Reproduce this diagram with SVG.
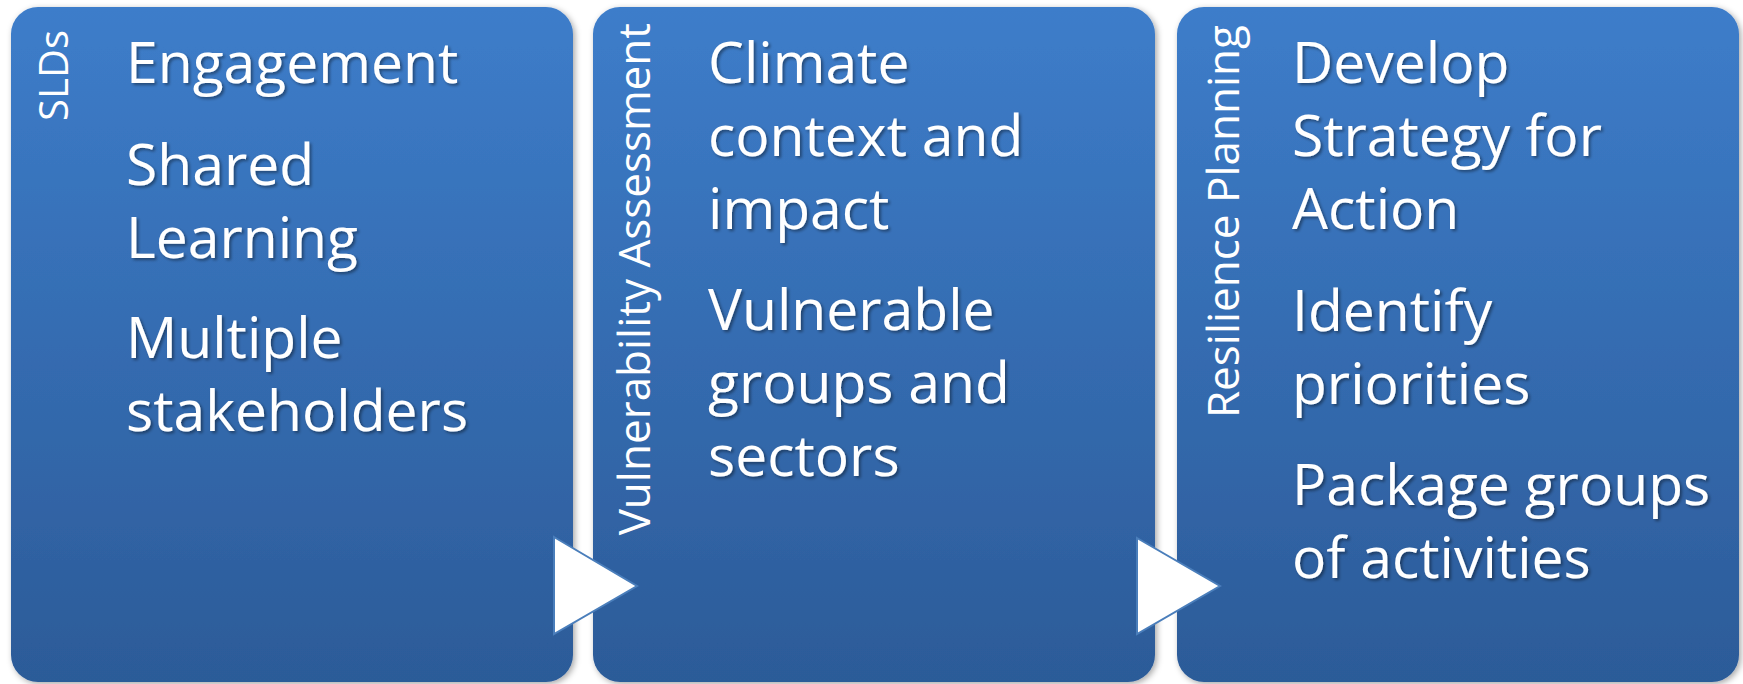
<svg xmlns="http://www.w3.org/2000/svg" width="1743" height="684" viewBox="0 0 1743 684">
  <defs>
    <linearGradient id="boxGrad" x1="0" y1="0" x2="0" y2="1">
      <stop offset="0" stop-color="#3d7dca"/>
      <stop offset="1" stop-color="#2c5b98"/>
    </linearGradient>
    <filter id="boxShadow" x="-5%" y="-5%" width="112%" height="112%">
      <feDropShadow dx="2" dy="2" stdDeviation="3" flood-color="#000" flood-opacity="0.35"/>
    </filter>
    <filter id="textShadow" x="-5%" y="-20%" width="115%" height="150%">
      <feDropShadow dx="2" dy="2" stdDeviation="1.5" flood-color="#000" flood-opacity="0.4"/>
    </filter>
  </defs>
  <style>
    .box { fill: url(#boxGrad); filter: url(#boxShadow); }
    .main { font-family: "Open Sans", "Noto Sans", sans-serif; font-size: 57px; fill: #ffffff; filter: url(#textShadow); }
    .side { font-family: "Open Sans", "Noto Sans", sans-serif; font-size: 44px; fill: #ffffff; text-anchor: end; }
    .arrow { fill: #ffffff; stroke: #4a7ebb; stroke-width: 2; stroke-linejoin: miter; }
  </style>

  <g id="node-slds">
    <rect class="box" x="11" y="7" width="562" height="675" rx="27" ry="27"/>
    <text class="side" style="font-size:40px" transform="translate(68,30) rotate(-90)">SLDs</text>
    <g class="main">
      <text x="126" y="83">Engagement</text>
      <text x="126" y="185">Shared</text>
      <text x="126" y="258">Learning</text>
      <text x="126" y="358">Multiple</text>
      <text x="126" y="431">stakeholders</text>
    </g>
  </g>

  <g id="node-vulnerability">
    <rect class="box" x="593" y="7" width="562" height="675" rx="27" ry="27"/>
    <text class="side" transform="translate(650,23) rotate(-90)">Vulnerability Assessment</text>
    <g class="main">
      <text x="708" y="83">Climate</text>
      <text x="708" y="156">context and</text>
      <text x="708" y="229">impact</text>
      <text x="708" y="330">Vulnerable</text>
      <text x="708" y="403">groups and</text>
      <text x="708" y="476">sectors</text>
    </g>
  </g>

  <g id="node-resilience">
    <rect class="box" x="1177" y="7" width="562" height="675" rx="27" ry="27"/>
    <text class="side" transform="translate(1239,25) rotate(-90)">Resilience Planning</text>
    <g class="main">
      <text x="1292" y="83">Develop</text>
      <text x="1292" y="156">Strategy for</text>
      <text x="1292" y="229">Action</text>
      <text x="1292" y="331">Identify</text>
      <text x="1292" y="404">priorities</text>
      <text x="1292" y="505">Package groups</text>
      <text x="1292" y="578">of activities</text>
    </g>
  </g>

  <g id="connectors">
    <polygon class="arrow" points="554,537 637,586 554,634"/>
    <polygon class="arrow" points="1137,538 1220,586 1137,634"/>
  </g>
</svg>
